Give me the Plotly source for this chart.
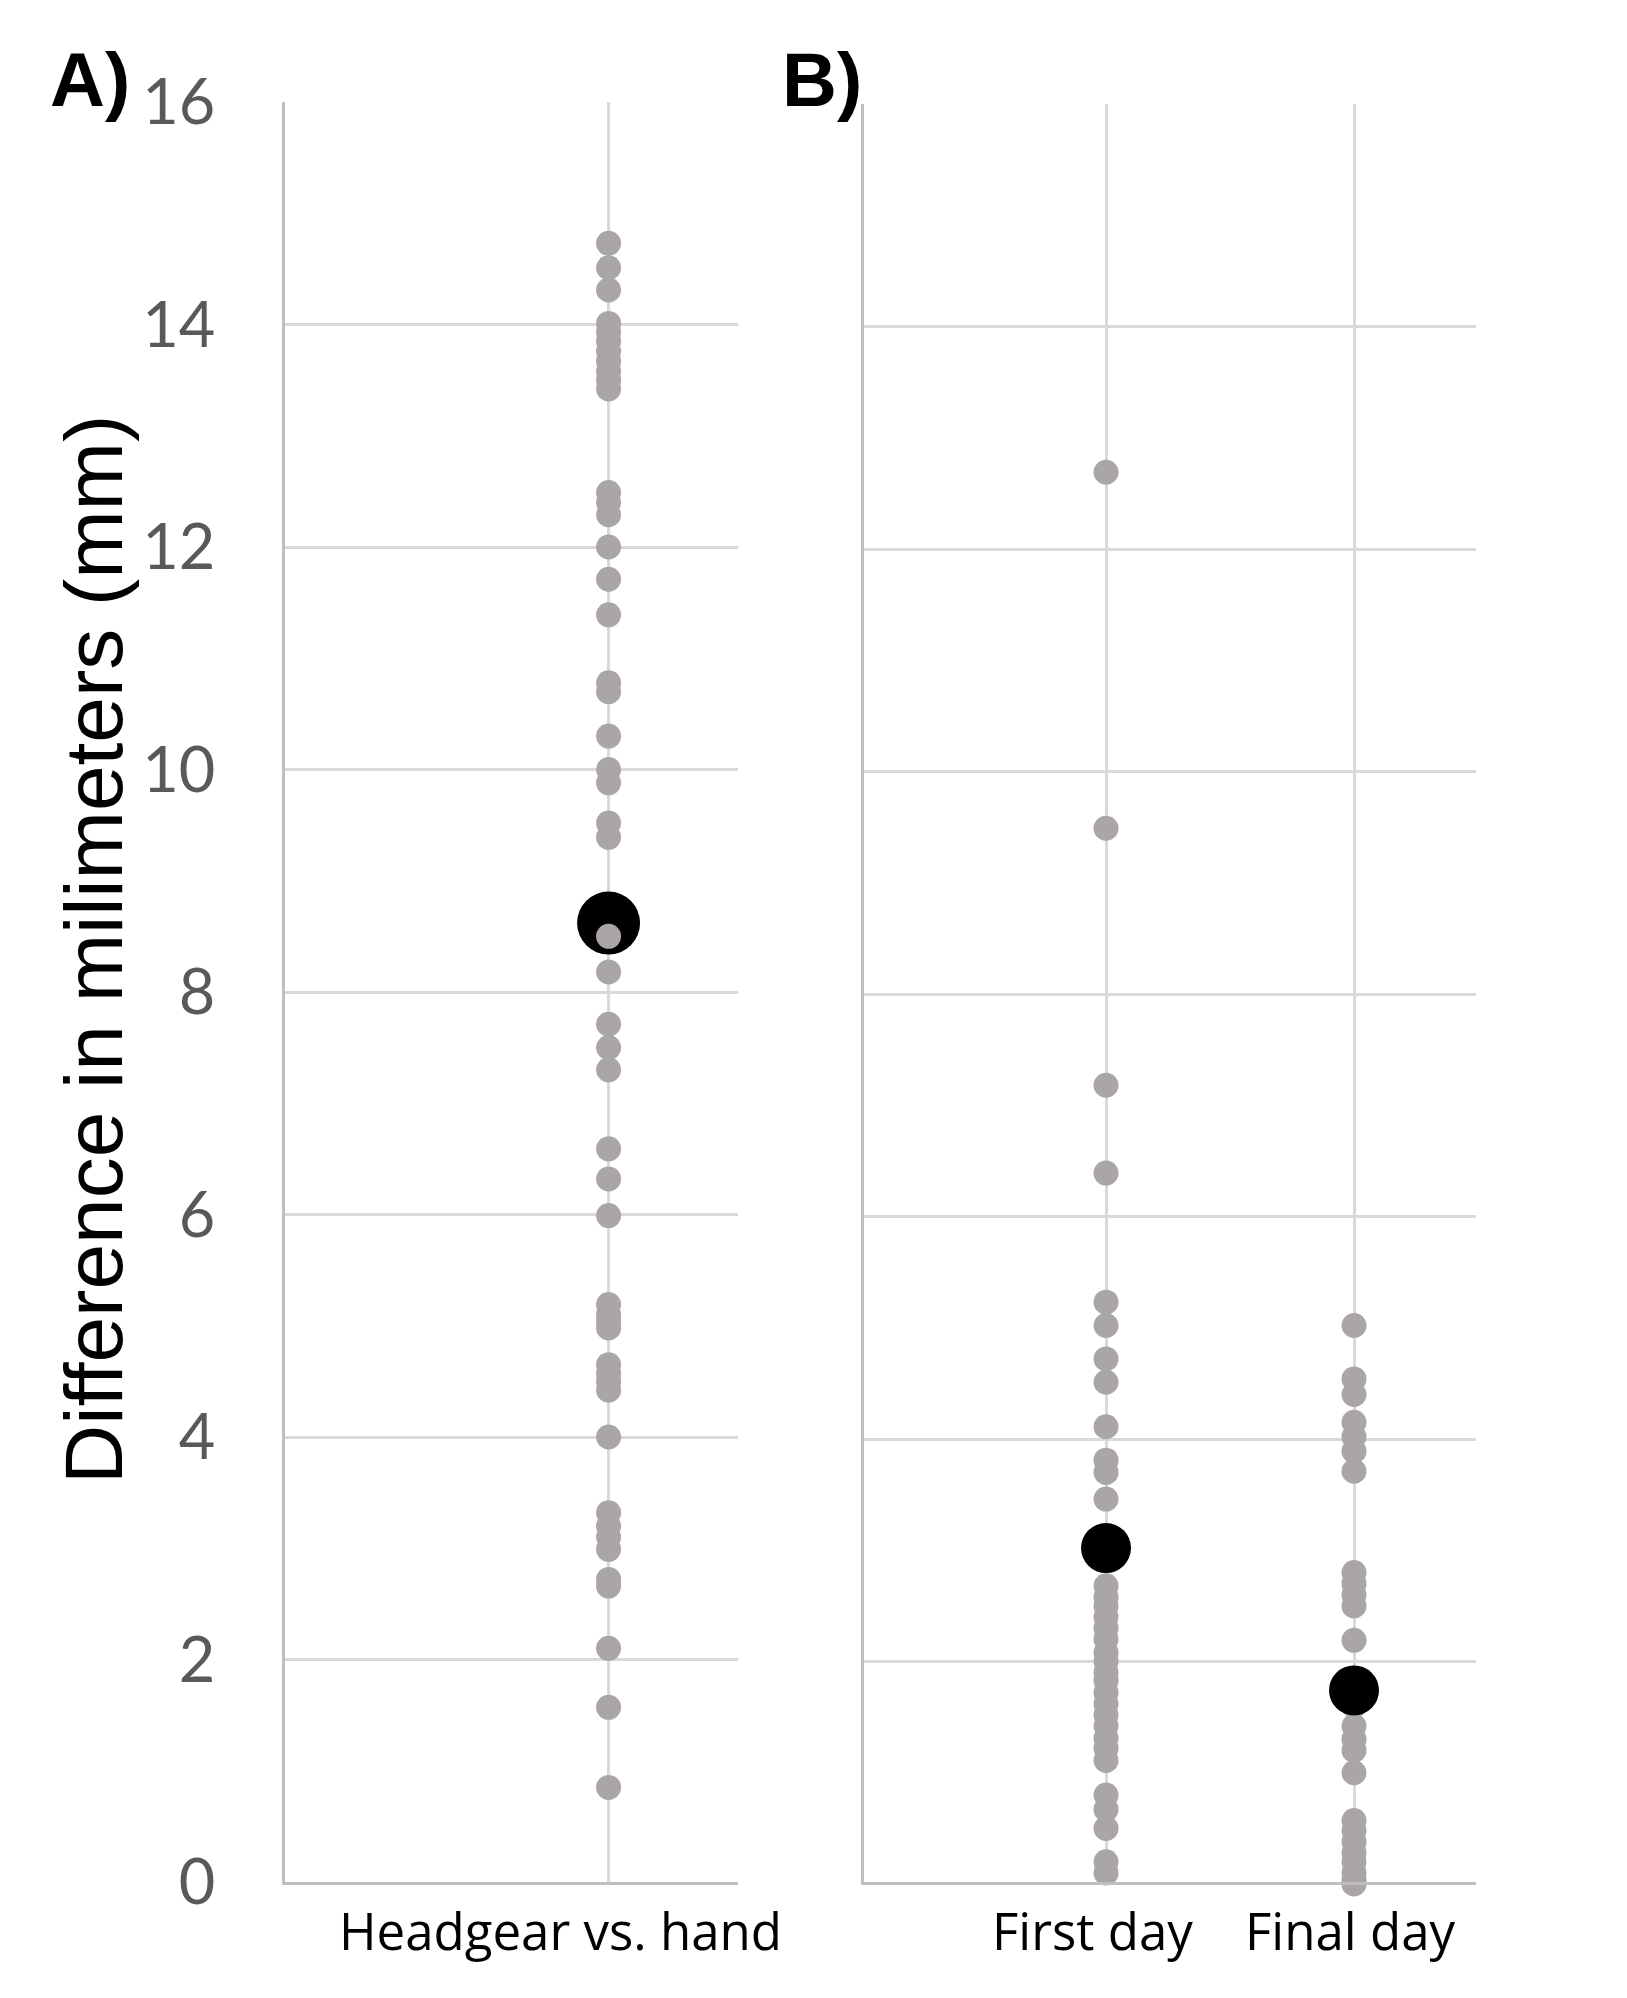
import plotly.graph_objects as go

# Panel A: headgear vs. hand differences (mm)
headgear_vs_hand = [14.73, 14.51, 14.31, 14.01, 13.93, 13.85, 13.76, 13.67, 13.58, 13.5, 13.42,
                    12.49, 12.4, 12.29, 12.0, 11.71, 11.39, 10.78, 10.7, 10.3, 10.0, 9.88,
                    9.52, 9.39, 8.5, 8.18, 7.71, 7.5, 7.3, 6.59, 6.32, 5.99, 5.19, 5.1, 5.04,
                    4.98, 4.65, 4.57, 4.5, 4.42, 4.0, 3.32, 3.2, 3.1, 2.99, 2.72, 2.66, 2.1,
                    1.57, 0.85]
headgear_mean = 8.62

# Panel B: first vs. final day
first_day = [12.69, 9.49, 7.18, 6.39, 5.23, 5.02, 4.72, 4.51, 4.11, 3.81, 3.7, 3.46,
             2.68, 2.58, 2.5, 2.4, 2.3, 2.2, 2.08, 2.0, 1.9, 1.83, 1.72, 1.62, 1.52,
             1.42, 1.31, 1.22, 1.11, 0.8, 0.67, 0.5, 0.2, 0.1]
first_mean = 3.02
final_day = [5.02, 4.54, 4.4, 4.15, 4.02, 3.89, 3.71, 2.8, 2.7, 2.6, 2.5, 2.19,
             1.85, 1.6, 1.42, 1.3, 1.2, 1.0, 0.57, 0.48, 0.38, 0.28, 0.2, 0.1, 0.03, 0.0]
final_mean = 1.74

categories_a = ["Headgear vs. hand"]
categories_b = ["First day", "Final day"]
y_ticks = [0, 2, 4, 6, 8, 10, 12, 14, 16]

GREY = "#aaa6a6"
GRID = "#d9d9d9"
AXIS = "#bfbfbf"
W, H = 1627, 1998
OFF = 8  # page body margin shifts the figure by this many pixels


def fx(px):
    return (px - OFF) / W


def fy(py):
    return 1 - (py - OFF) / H


fig = go.Figure()

# panel A: mean first, individual points drawn over it
fig.add_trace(go.Scatter(x=[1], y=[headgear_mean], mode="markers",
                         marker=dict(color="black", size=63),
                         xaxis="x", yaxis="y", cliponaxis=False))
fig.add_trace(go.Scatter(x=[1] * len(headgear_vs_hand), y=headgear_vs_hand, mode="markers",
                         marker=dict(color=GREY, size=25),
                         xaxis="x", yaxis="y", cliponaxis=False))

# panel B: points first, means on top
fig.add_trace(go.Scatter(x=[1] * len(first_day), y=first_day, mode="markers",
                         marker=dict(color=GREY, size=25),
                         xaxis="x2", yaxis="y2", cliponaxis=False))
fig.add_trace(go.Scatter(x=[2] * len(final_day), y=final_day, mode="markers",
                         marker=dict(color=GREY, size=25),
                         xaxis="x2", yaxis="y2", cliponaxis=False))
fig.add_trace(go.Scatter(x=[1, 2], y=[first_mean, final_mean], mode="markers",
                         marker=dict(color="black", size=50),
                         xaxis="x2", yaxis="y2", cliponaxis=False))

xcommon = dict(showline=True, linecolor=AXIS, linewidth=3, showgrid=True,
               gridcolor=GRID, gridwidth=3, zeroline=False, showticklabels=False,
               ticks="", fixedrange=True, automargin=False)
ycommon = dict(range=[0, 16], tickvals=y_ticks, showline=True, linecolor=AXIS,
               linewidth=3, showgrid=True, gridcolor=GRID, gridwidth=3,
               zeroline=False, ticks="", automargin=False)

fig.update_layout(
    width=W, height=H,
    margin=dict(l=0, r=0, t=0, b=0, pad=0),
    paper_bgcolor="white", plot_bgcolor="white",
    showlegend=False,
    xaxis=dict(domain=[fx(285), fx(738)], range=[0, 1.4], tickvals=[1], **xcommon),
    xaxis2=dict(domain=[fx(864), fx(1476)], range=[0.024, 2.492], tickvals=[1, 2], **xcommon),
    yaxis=dict(domain=[fy(1882), fy(102)], anchor="x", showticklabels=True,
               tickfont=dict(family="Lato", size=63, color="#595959"),
               ticklabelstandoff=54, **ycommon),
    yaxis2=dict(domain=[fy(1884), fy(104)], anchor="x2", showticklabels=False, **ycommon),
)

annotations = [
    dict(text="Difference in milimeters (mm)", x=fx(94), y=fy(950),
         textangle=-90, font=dict(family="Liberation Sans", size=82, color="black")),
    dict(text="<b>A)</b>", x=fx(90), y=fy(80),
         font=dict(family="Liberation Sans", size=76, color="black")),
    dict(text="<b>B)</b>", x=fx(822), y=fy(80),
         font=dict(family="Liberation Sans", size=76, color="black")),
]
label_x = {"Headgear vs. hand": 560, "First day": 1092, "Final day": 1350}
for name in categories_a + categories_b:
    annotations.append(dict(text=name, x=fx(label_x[name]), y=fy(1930),
                            font=dict(family="Open Sans", size=51, color="black")))
for a in annotations:
    a.update(xref="paper", yref="paper", showarrow=False, xanchor="center", yanchor="middle")
fig.update_layout(annotations=annotations)

fig.write_html("out.html")
